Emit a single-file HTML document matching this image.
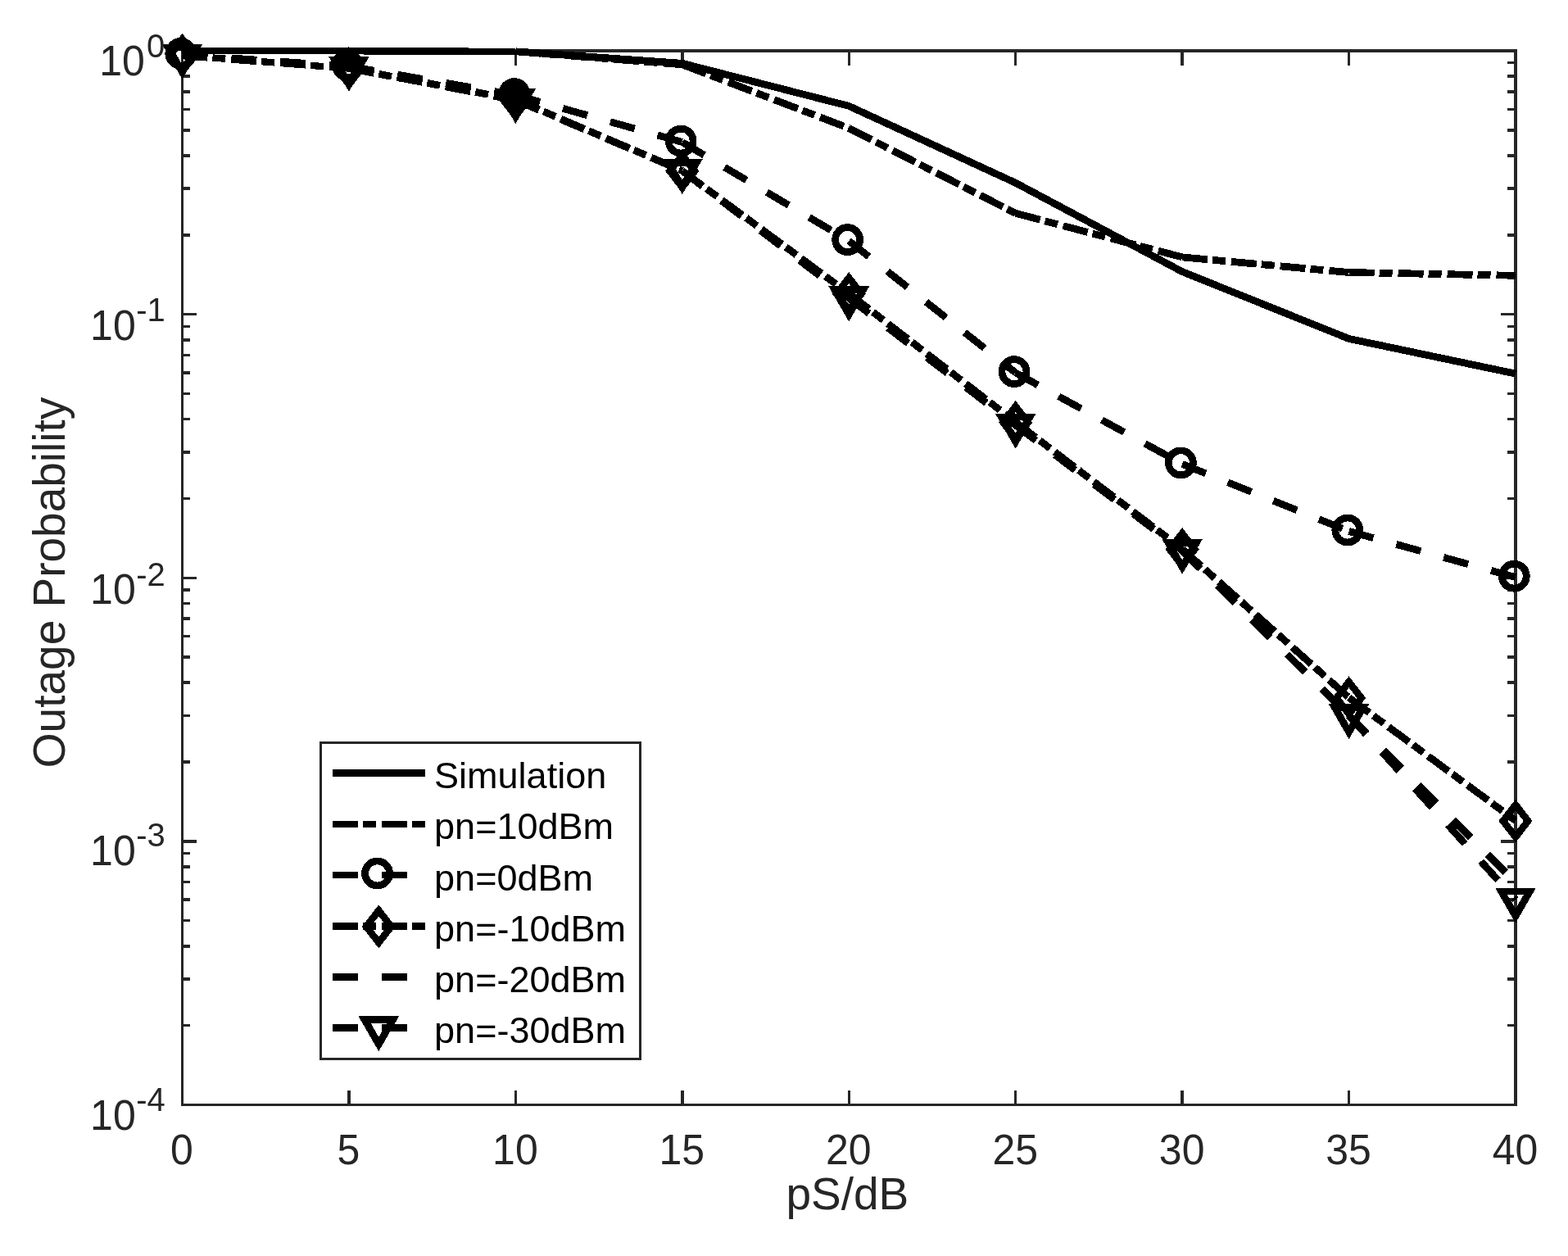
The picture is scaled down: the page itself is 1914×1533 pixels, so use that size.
<!DOCTYPE html>
<html lang="en"><head><meta charset="utf-8"><title>Outage Probability vs pS/dB</title>
<style>html,body{margin:0;padding:0;background:#fff}body{width:1914px;height:1533px;overflow:hidden}svg{display:block}text{font-family:'Liberation Sans',Arial,Helvetica,sans-serif}</style></head><body>
<svg xmlns="http://www.w3.org/2000/svg" width="1914" height="1533" viewBox="0 0 1914 1533">
<rect x="0" y="0" width="1914" height="1533" fill="#fff"/>
<g id="axes" fill="#262626" shape-rendering="crispEdges">
<rect x="221" y="60" width="1631" height="4"/>
<rect x="221" y="1347" width="1631" height="3"/>
<rect x="221" y="60" width="3" height="1290"/>
<rect x="1848" y="60" width="4" height="1290"/>
<g fill="none" stroke="#262626" stroke-width="3.5">
<path d="M425.94 1347V1331M425.94 64V80"/>
<path d="M629.38 1347V1331M629.38 64V80"/>
<path d="M832.81 1347V1331M832.81 64V80"/>
<path d="M1036.25 1347V1331M1036.25 64V80"/>
<path d="M1239.69 1347V1331M1239.69 64V80"/>
<path d="M1443.12 1347V1331M1443.12 64V80"/>
<path d="M1646.56 1347V1331M1646.56 64V80"/>
<path d="M224 383.62h16M1848 383.62h-16"/>
<path d="M224 286.81h8M1848 286.81h-8"/>
<path d="M224 230.17h8M1848 230.17h-8"/>
<path d="M224 189.99h8M1848 189.99h-8"/>
<path d="M224 158.82h8M1848 158.82h-8"/>
<path d="M224 133.35h8M1848 133.35h-8"/>
<path d="M224 111.82h8M1848 111.82h-8"/>
<path d="M224 93.17h8M1848 93.17h-8"/>
<path d="M224 76.72h8M1848 76.72h-8"/>
<path d="M224 705.25h16M1848 705.25h-16"/>
<path d="M224 608.43h8M1848 608.43h-8"/>
<path d="M224 551.8h8M1848 551.8h-8"/>
<path d="M224 511.61h8M1848 511.61h-8"/>
<path d="M224 480.44h8M1848 480.44h-8"/>
<path d="M224 454.98h8M1848 454.98h-8"/>
<path d="M224 433.45h8M1848 433.45h-8"/>
<path d="M224 414.79h8M1848 414.79h-8"/>
<path d="M224 398.34h8M1848 398.34h-8"/>
<path d="M224 1026.88h16M1848 1026.88h-16"/>
<path d="M224 930.06h8M1848 930.06h-8"/>
<path d="M224 873.42h8M1848 873.42h-8"/>
<path d="M224 833.24h8M1848 833.24h-8"/>
<path d="M224 802.07h8M1848 802.07h-8"/>
<path d="M224 776.6h8M1848 776.6h-8"/>
<path d="M224 755.07h8M1848 755.07h-8"/>
<path d="M224 736.42h8M1848 736.42h-8"/>
<path d="M224 719.97h8M1848 719.97h-8"/>
<path d="M224 1251.68h8M1848 1251.68h-8"/>
<path d="M224 1195.05h8M1848 1195.05h-8"/>
<path d="M224 1154.86h8M1848 1154.86h-8"/>
<path d="M224 1123.69h8M1848 1123.69h-8"/>
<path d="M224 1098.23h8M1848 1098.23h-8"/>
<path d="M224 1076.7h8M1848 1076.7h-8"/>
<path d="M224 1058.04h8M1848 1058.04h-8"/>
<path d="M224 1041.59h8M1848 1041.59h-8"/>
</g>
</g>
<g id="data" fill="none" stroke="#000" stroke-width="8.8" stroke-linejoin="miter" shape-rendering="crispEdges">
<polyline points="222.5,62 425.94,62.3 629.38,62.82" stroke-width="8.33"/>
<polyline points="629.38,62.82 832.81,77.3 1036.25,129.4 1239.69,223.2 1443.12,331.6 1646.56,413.4 1850,456.1"/>
<line x1="629.38" y1="62.82" x2="832.81" y2="78.8" stroke-dasharray="31 6 16 7"/><line x1="832.81" y1="78.8" x2="1036.25" y2="156.5" stroke-dasharray="31 6 16 7"/><line x1="1036.25" y1="156.5" x2="1239.69" y2="260.3" stroke-dasharray="31 6 16 7"/><line x1="1239.69" y1="260.3" x2="1443.12" y2="313.9" stroke-dasharray="31 6 16 7"/><line x1="1443.12" y1="313.9" x2="1646.56" y2="332.5" stroke-dasharray="31 6 16 7"/><line x1="1646.56" y1="332.5" x2="1850" y2="336.3" stroke-dasharray="31 6 16 7"/>
<line x1="222.5" y1="66.8" x2="425.94" y2="81" stroke-dasharray="31 29"/><line x1="425.94" y1="81" x2="629.38" y2="116" stroke-dasharray="31 29"/><line x1="629.38" y1="116" x2="832.81" y2="173.5" stroke-dasharray="31 29"/><line x1="832.81" y1="173.5" x2="1036.25" y2="294" stroke-dasharray="31 29"/><line x1="1036.25" y1="294" x2="1239.69" y2="455" stroke-dasharray="31 29"/><line x1="1239.69" y1="455" x2="1443.12" y2="566.3" stroke-dasharray="31 29"/><line x1="1443.12" y1="566.3" x2="1646.56" y2="648.4" stroke-dasharray="31 29"/><line x1="1646.56" y1="648.4" x2="1850" y2="704.6" stroke-dasharray="31 29"/>
<circle cx="220.8" cy="65.4" r="15" stroke-width="8.8"/><circle cx="424.24" cy="79.6" r="15" stroke-width="8.8"/><circle cx="627.67" cy="114.6" r="15" stroke-width="8.8"/><circle cx="831.11" cy="172.1" r="15" stroke-width="8.8"/><circle cx="1034.55" cy="292.6" r="15" stroke-width="8.8"/><circle cx="1237.99" cy="453.6" r="15" stroke-width="8.8"/><circle cx="1441.42" cy="564.9" r="15" stroke-width="8.8"/><circle cx="1644.86" cy="647" r="15" stroke-width="8.8"/><circle cx="1848.3" cy="703.2" r="15" stroke-width="8.8"/>
<line x1="222.5" y1="67.6" x2="425.94" y2="83.55" stroke-dasharray="31 6 16 7" stroke-width="8.33"/><line x1="425.94" y1="83.55" x2="629.38" y2="121.5" stroke-dasharray="31 6 16 7"/><line x1="629.38" y1="121.5" x2="832.81" y2="208.5" stroke-dasharray="31 6 16 7"/><line x1="832.81" y1="208.5" x2="1036.25" y2="358.3" stroke-dasharray="31 6 16 7"/><line x1="1036.25" y1="358.3" x2="1239.69" y2="515.2" stroke-dasharray="31 6 16 7"/><line x1="1239.69" y1="515.2" x2="1443.12" y2="670.2" stroke-dasharray="31 6 16 7"/><line x1="1443.12" y1="670.2" x2="1646.56" y2="851.5" stroke-dasharray="31 6 16 7"/><line x1="1646.56" y1="851.5" x2="1850" y2="1001.6" stroke-dasharray="31 6 16 7"/>
<path stroke-width="8.6" d="M222.5 47.8L237.7 67.4L222.5 87L207.3 67.4z"/><path stroke-width="8.6" d="M425.94 63.8L441.14 83.4L425.94 103L410.74 83.4z"/><path stroke-width="8.6" d="M629.38 102.3L644.58 121.9L629.38 141.5L614.17 121.9z"/><path stroke-width="8.6" d="M832.81 189.3L848.01 208.9L832.81 228.5L817.61 208.9z"/><path stroke-width="8.6" d="M1036.25 339.1L1051.45 358.7L1036.25 378.3L1021.05 358.7z"/><path stroke-width="8.6" d="M1239.69 496L1254.89 515.6L1239.69 535.2L1224.49 515.6z"/><path stroke-width="8.6" d="M1443.12 651L1458.33 670.6L1443.12 690.2L1427.92 670.6z"/><path stroke-width="8.6" d="M1646.56 832.3L1661.76 851.9L1646.56 871.5L1631.36 851.9z"/><path stroke-width="8.6" d="M1850 982.4L1865.2 1002L1850 1021.6L1834.8 1002z"/>
<line x1="222.5" y1="67.3" x2="425.94" y2="83" stroke-dasharray="31 29"/><line x1="425.94" y1="83" x2="629.38" y2="122.3" stroke-dasharray="31 29"/><line x1="629.38" y1="122.3" x2="832.81" y2="208.5" stroke-dasharray="31 29"/><line x1="832.81" y1="208.5" x2="1036.25" y2="363.8" stroke-dasharray="31 29"/><line x1="1036.25" y1="363.8" x2="1239.69" y2="519" stroke-dasharray="31 29"/><line x1="1239.69" y1="519" x2="1443.12" y2="672.1" stroke-dasharray="31 29"/><line x1="1443.12" y1="672.1" x2="1646.56" y2="873" stroke-dasharray="31 29"/><line x1="1646.56" y1="873" x2="1850" y2="1077" stroke-dasharray="31 29"/>
<line x1="222.5" y1="67.9" x2="425.94" y2="83.1" stroke-dasharray="31 29"/><line x1="425.94" y1="83.1" x2="629.38" y2="122.3" stroke-dasharray="31 29"/><line x1="629.38" y1="122.3" x2="832.81" y2="208.5" stroke-dasharray="31 29"/><line x1="832.81" y1="208.5" x2="1036.25" y2="363.8" stroke-dasharray="31 29"/><line x1="1036.25" y1="363.8" x2="1239.69" y2="519" stroke-dasharray="31 29"/><line x1="1239.69" y1="519" x2="1443.12" y2="672.1" stroke-dasharray="31 29"/><line x1="1443.12" y1="672.1" x2="1646.56" y2="873.4" stroke-dasharray="31 29"/><line x1="1646.56" y1="873.4" x2="1850" y2="1098" stroke-dasharray="31 29"/>
<path stroke-width="8.8" d="M205.18 57.9L239.82 57.9L222.5 87.9z"/><path stroke-width="8.8" d="M408.62 73.1L443.26 73.1L425.94 103.1z"/><path stroke-width="8.8" d="M612.05 112.3L646.7 112.3L629.38 142.3z"/><path stroke-width="8.8" d="M815.49 198.5L850.13 198.5L832.81 228.5z"/><path stroke-width="8.8" d="M1018.93 353.8L1053.57 353.8L1036.25 383.8z"/><path stroke-width="8.8" d="M1222.37 509L1257.01 509L1239.69 539z"/><path stroke-width="8.8" d="M1425.8 662.1L1460.45 662.1L1443.12 692.1z"/><path stroke-width="8.8" d="M1629.24 863.4L1663.88 863.4L1646.56 893.4z"/><path stroke-width="8.8" d="M1832.68 1088L1867.32 1088L1850 1118z"/>
</g>
<g id="xticklabels" fill="#262626" font-size="50" text-anchor="middle">
<text transform="translate(222 1420.5) scale(1 1.025)">0</text>
<text transform="translate(425.44 1420.5) scale(1 1.025)">5</text>
<text transform="translate(628.88 1420.5) scale(1 1.025)">10</text>
<text transform="translate(832.31 1420.5) scale(1 1.025)">15</text>
<text transform="translate(1035.75 1420.5) scale(1 1.025)">20</text>
<text transform="translate(1239.19 1420.5) scale(1 1.025)">25</text>
<text transform="translate(1442.62 1420.5) scale(1 1.025)">30</text>
<text transform="translate(1646.06 1420.5) scale(1 1.025)">35</text>
<text transform="translate(1849.5 1420.5) scale(1 1.025)">40</text>
</g>
<g id="yticklabels" fill="#262626">
<text transform="translate(121.2 91.9) scale(1 1.025)" font-size="50">10</text>
<text transform="translate(178.9 69.6) scale(1 1.025)" font-size="40">0</text>
<text transform="translate(110.1 414.8) scale(1 1.025)" font-size="50">10</text>
<text transform="translate(166.2 391.9) scale(1 1.025)" font-size="40">-1</text>
<text transform="translate(110.1 736.8) scale(1 1.025)" font-size="50">10</text>
<text transform="translate(166.2 714.8) scale(1 1.025)" font-size="40">-2</text>
<text transform="translate(110.1 1055.8) scale(1 1.025)" font-size="50">10</text>
<text transform="translate(166.2 1033.4) scale(1 1.025)" font-size="40">-3</text>
<text transform="translate(110.1 1378.9) scale(1 1.025)" font-size="50">10</text>
<text transform="translate(166.2 1355.9) scale(1 1.025)" font-size="40">-4</text>
</g>
<text id="xlabel" x="959.4" y="1475.8" font-size="55" fill="#262626">pS/dB</text>
<text id="ylabel" transform="translate(78.9 937.2) rotate(-90)" font-size="55" fill="#262626">Outage Probability</text>
<g id="legend">
<rect x="391.5" y="906" width="390" height="386" fill="#fff" stroke="#262626" stroke-width="3" shape-rendering="crispEdges"/>
<g fill="none" stroke="#000" stroke-width="8.33" shape-rendering="crispEdges">
<line x1="406" y1="943.5" x2="519" y2="943.5"/>
<line x1="406" y1="1006" x2="519" y2="1006" stroke-dasharray="31 6 16 7"/>
<line x1="406" y1="1068" x2="519" y2="1068" stroke-dasharray="31 29"/>
<circle cx="460.6" cy="1066" r="15" stroke-width="8.8"/>
<line x1="406" y1="1130.5" x2="519" y2="1130.5" stroke-dasharray="31 6 16 7"/>
<path stroke-width="8.6" d="M462.3 1111.3L477.5 1130.9L462.3 1150.5L447.1 1130.9z"/>
<line x1="406" y1="1192.5" x2="519" y2="1192.5" stroke-dasharray="31 29"/>
<line x1="406" y1="1254.5" x2="519" y2="1254.5" stroke-dasharray="31 29"/>
<path stroke-width="8.8" d="M444.98 1244.5L479.62 1244.5L462.3 1274.5z"/>
</g>
<g font-size="45" fill="#000">
<text x="530.1" y="961.9">Simulation</text>
<text x="530.1" y="1024.2">pn=10dBm</text>
<text x="530.1" y="1086.5">pn=0dBm</text>
<text x="530.1" y="1148.8">pn=-10dBm</text>
<text x="530.1" y="1211.1">pn=-20dBm</text>
<text x="530.1" y="1273.4">pn=-30dBm</text>
</g>
</g>
</svg></body></html>
